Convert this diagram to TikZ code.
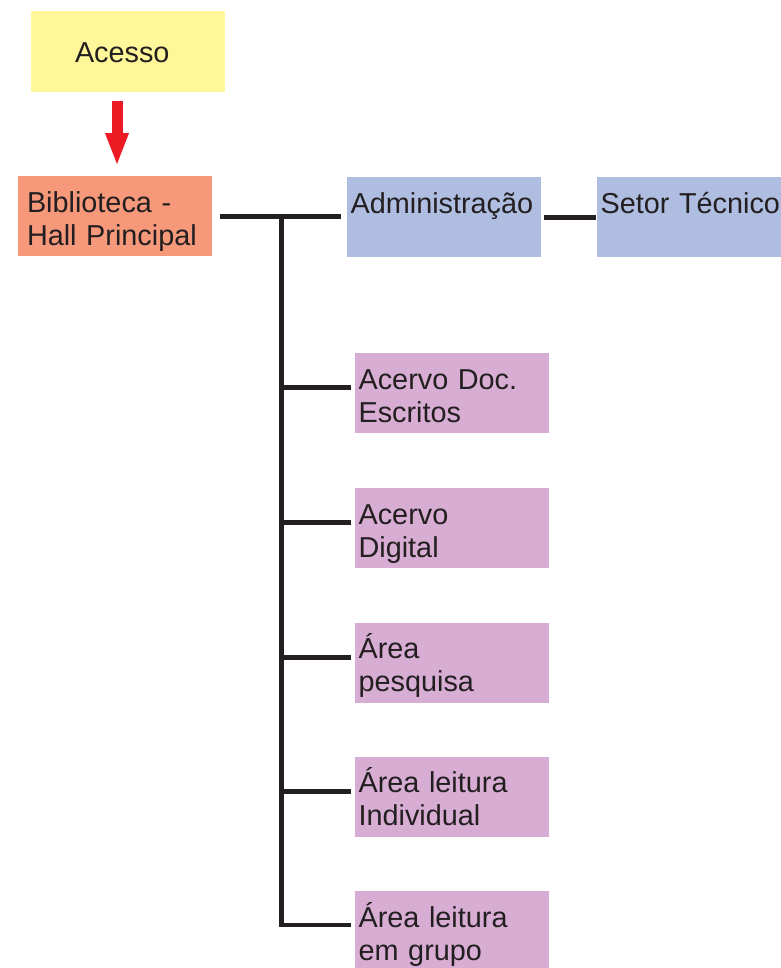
\documentclass[tikz,border=0pt]{standalone}
\usepackage{fontspec}
\setmainfont{Liberation Sans}
\usepackage{tikz}
\usetikzlibrary{arrows.meta,positioning,calc}
\definecolor{accYellow}{HTML}{FFF799}
\definecolor{hallRed}{HTML}{F6987A}
\definecolor{admBlue}{HTML}{AEBDE0}
\definecolor{areaPink}{HTML}{D7ADD3}
\definecolor{flowRed}{HTML}{ED1C24}
\definecolor{inkline}{HTML}{231F20}

\begin{document}
\begin{tikzpicture}[font=\fontsize{20.5}{23.5}\selectfont,text=inkline,
 box/.style={inner ysep=0pt,inner xsep=.09cm,text width=4.67cm,align=left,
  text height=.9cm,text depth=1.1cm},
 link/.style={draw=inkline,line width=.12cm},
 flow/.style={draw=flowRed,fill=flowRed,line width=.275cm,
  -{Triangle[length=.825cm,width=.525cm]}}]
\useasboundingbox (0,0) rectangle (19.525,-24.2);
\node[fill=accYellow,inner ysep=0pt,inner xsep=1.1cm,text width=2.65cm,align=left,
 text height=1.3cm,text depth=.725cm] (acesso) at (3.2,-1.2875) {Acesso};
\node[box,fill=hallRed,inner xsep=.225cm,text width=4.4cm] (hall) at (2.875,-5.4125) {Biblioteca -\\Hall Principal};
\node[box,fill=admBlue] (adm) at (11.1,-5.4375) {Administração};
\node[box,fill=admBlue] (setor) at (17.35,-5.4375) {Setor Técnico};
\node[box,fill=areaPink] (acv) at (11.3,-9.825) {Acervo Doc.\\Escritos};
\node[box,fill=areaPink] (dig) at (11.3,-13.2) {Acervo\\Digital};
\node[box,fill=areaPink] (pesq) at (11.3,-16.5625) {Área\\pesquisa};
\node[box,fill=areaPink] (indiv) at (11.3,-19.9125) {Área leitura\\Individual};
\node[box,fill=areaPink] (grupo) at (11.3,-23.275) {Área leitura\\em grupo};
% access arrow
\draw[flow,shorten <=.225cm,shorten >=.25cm] ([xshift=.05cm]hall.north |- acesso.south)--([xshift=.05cm]hall.north);
% main branch
\coordinate (jt) at (7.045,-5.4125);
\draw[link,shorten <=.2cm,shorten >=.15cm] (hall.east)--(hall.east -| adm.west);
\draw[link,shorten <=.075cm,shorten >=.025cm] (adm.east)--(adm.east -| setor.west);
\foreach \n in {acv,dig,pesq,indiv}{
 \coordinate (e\n) at ([yshift=.13cm]\n.west);
 \draw[link,shorten >=.1cm] (jt |- e\n)--(e\n);
}
\coordinate (egrupo) at ([yshift=.15cm]grupo.west);
\draw[link,shorten >=.1cm] (jt)|-(egrupo);
\end{tikzpicture}
\end{document}
